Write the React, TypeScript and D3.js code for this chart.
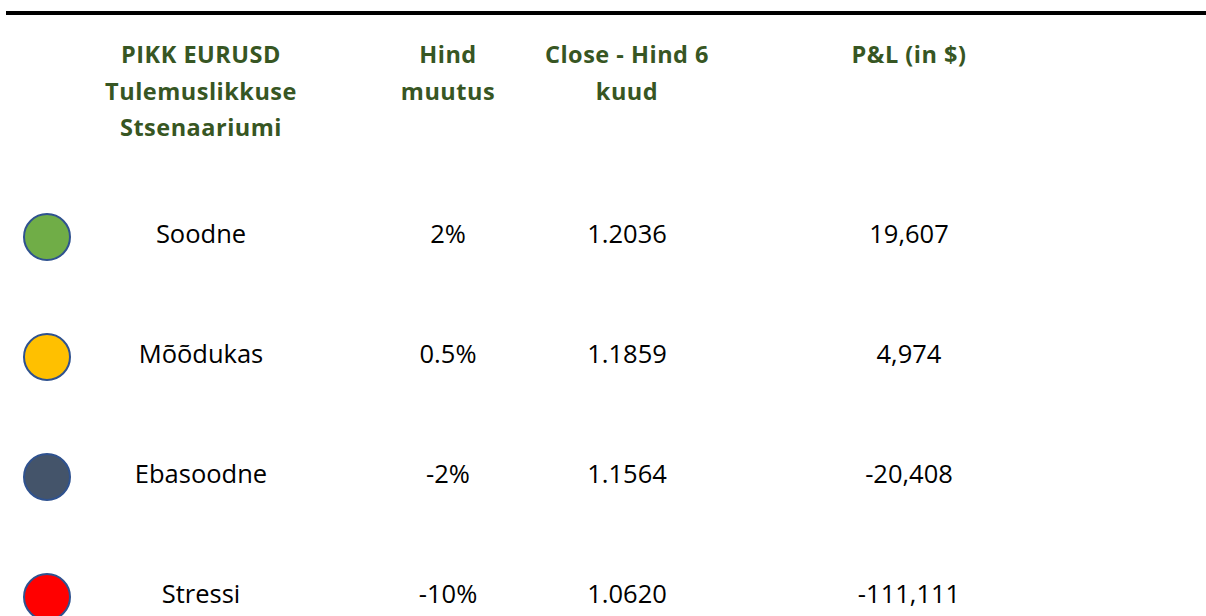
import * as d3 from "d3";
import React from "react";

// scenario table data
const scenarios = ["Soodne", "Mõõdukas", "Ebasoodne", "Stressi"];
const priceChange = ["2%", "0.5%", "-2%", "-10%"];
const closePrice = [1.2036, 1.1859, 1.1564, 1.062];
const pnl = [19607, 4974, -20408, -111111];
const dotColors = ["#70AD47", "#FFC000", "#44546A", "#FF0000"];

const columns = ["scenario", "change", "close", "pnl"];
const headers = [
  ["PIKK EURUSD", "Tulemuslikkuse", "Stsenaariumi"],
  ["Hind", "muutus"],
  ["Close - Hind 6", "kuud"],
  ["P&L (in $)"],
];

const width = 1206;
const height = 616;
const green = "#375623";
const font = "'Open Sans', 'Noto Sans', sans-serif";

export default function App() {
  const x = d3.scaleOrdinal<string, number>().domain(columns).range([201, 448, 627, 909]);
  const y = d3.scalePoint<string>().domain(scenarios).range([237, 597]);
  const fmtClose = d3.format(".4f");
  const fmtPnl = d3.format(",");

  return (
    <svg
      width={width}
      height={height}
      style={{ position: "absolute", left: 0, top: 0, background: "#fff" }}
      fontFamily={font}
    >
      <line x1={6} x2={width} y1={13} y2={13} stroke="#000" strokeWidth={4} />

      {/* column headers */}
      {headers.map((lines, i) => (
        <text
          key={i}
          x={x(columns[i])}
          textAnchor="middle"
          fill={green}
          fontWeight="bold"
          fontSize={23.5}
          letterSpacing={0.5}
        >
          {lines.map((l, j) => (
            <tspan key={j} x={x(columns[i])} y={63 + j * 36.5}>
              {l}
            </tspan>
          ))}
        </text>
      ))}

      {/* rows */}
      {scenarios.map((s, i) => {
        const cy = y(s)!;
        return (
          <g key={s}>
            <circle cx={47} cy={cy} r={23} fill={dotColors[i]} stroke="#2F528F" strokeWidth={2} />
            <g fontSize={25.5} fill="#000" textAnchor="middle">
              <text x={x("scenario")} y={cy + 6}>{s}</text>
              <text x={x("change")} y={cy + 6}>{priceChange[i]}</text>
              <text x={x("close")} y={cy + 6}>{fmtClose(closePrice[i])}</text>
              <text x={x("pnl")} y={cy + 6}>{fmtPnl(pnl[i]).replace("−", "-")}</text>
            </g>
          </g>
        );
      })}
    </svg>
  );
}
